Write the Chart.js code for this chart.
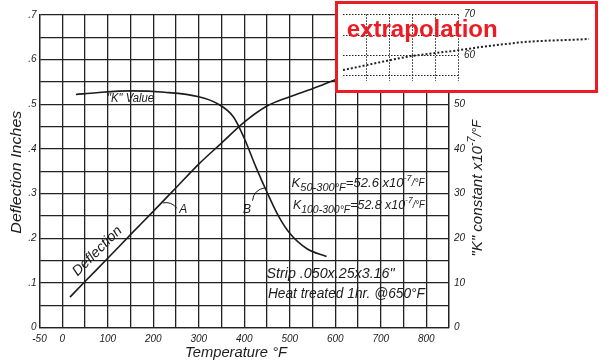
<!DOCTYPE html>
<html>
<head>
<meta charset="utf-8">
<script src="https://cdn.jsdelivr.net/npm/chart.js@4.4.1/dist/chart.umd.min.js"></script>
<style>
  html, body { margin: 0; padding: 0; background: #fff; }
  #wrap { position: relative; width: 602px; height: 363px; overflow: hidden; }
  #main { position: absolute; left: 0; top: 0; }
  #inset { position: absolute; left: 335px; top: 1px; }
</style>
</head>
<body>
<div id="wrap">
  <canvas id="main" width="602" height="363"></canvas>
  <canvas id="inset" width="263" height="92"></canvas>
</div>
<script>
// ---------------- data ----------------
const tempTicks = [-50, 0, 100, 200, 300, 400, 500, 600, 700, 800];
const tempTickLabels = ['-50', '0', '100', '200', '300', '400', '500', '600', '700', '800'];
const deflTickLabels = ['0', '.1', '.2', '.3', '.4', '.5', '.6', '.7'];
const kTickLabels = ['0', '10', '20', '30', '40', '50', '60', '70'];

// Deflection (inches) vs temperature (°F)
const deflTemps  = [17, 50, 100, 150, 200, 250, 300, 350, 400, 450, 500, 550, 600];
const deflValues = [0.068, 0.103, 0.155, 0.208, 0.260, 0.313, 0.366, 0.413, 0.460, 0.496, 0.517, 0.535, 0.555];

// "K" value (x10^-7 /°F) vs temperature (°F)
const kTemps  = [30, 75, 150, 225, 300, 340, 376, 400, 425, 450, 475, 500, 537, 581];
const kValues = [52.2, 52.6, 53.0, 52.7, 51.7, 50.2, 47.2, 42.4, 36.1, 30.3, 25.0, 21.1, 17.7, 15.9];

// extrapolated deflection (inset)
const extrapTemps  = [600, 650, 700, 750, 800, 850, 900, 950, 1000, 1050, 1100, 1135];
const extrapValues = [0.562, 0.574, 0.586, 0.597, 0.604, 0.611, 0.619, 0.626, 0.632, 0.635, 0.637, 0.639];
const insetTickValues = [0.6, 0.7];
const insetTickLabels = ['60', '70'];

// ---------------- helpers ----------------
const INK = '#1c1c1c';
const FONT = (s) => `italic ${s}px "Liberation Sans", Arial, sans-serif`;

function fitText(ctx, text, x, y, font, width, opts = {}) {
  ctx.save();
  ctx.font = font;
  ctx.fillStyle = opts.color || INK;
  ctx.translate(x, y);
  if (opts.rot) ctx.rotate(opts.rot);
  const w = ctx.measureText(text).width;
  if (width) ctx.scale(width / w, 1);
  ctx.textAlign = opts.align || 'left';
  ctx.textBaseline = opts.baseline || 'alphabetic';
  ctx.fillText(text, 0, 0);
  ctx.restore();
}

function richText(ctx, parts, x, y, width, opts = {}) {
  ctx.save();
  ctx.fillStyle = INK;
  ctx.textBaseline = opts.baseline || 'alphabetic';
  ctx.textAlign = 'left';
  let total = 0;
  parts.forEach(p => { ctx.font = p.font; p.w = ctx.measureText(p.t).width; total += p.w; });
  ctx.translate(x, y);
  if (opts.rot) ctx.rotate(opts.rot);
  const sx = width ? width / total : 1;
  ctx.scale(sx, 1);
  let cx = opts.align === 'center' ? -total / 2 : 0;
  parts.forEach(p => { ctx.font = p.font; ctx.fillText(p.t, cx, p.dy || 0); cx += p.w; });
  ctx.restore();
}

// ---------------- main chart ----------------
const mainPlugin = {
  id: 'mainDecor',
  beforeDraw(chart) {
    const ctx = chart.ctx;
    ctx.save();
    ctx.fillStyle = '#fff';
    ctx.fillRect(0, 0, chart.width, chart.height);
    ctx.restore();
  },
  afterDatasetsDraw(chart) {
    const ctx = chart.ctx;
    const xs = chart.scales.x, ys = chart.scales.y;
    const X = v => xs.getPixelForValue(v);
    const Y = v => ys.getPixelForValue(v);

    // curve labels
    fitText(ctx, '"K" Value', X(150), Y(0.506), FONT(12), 47, { align: 'center' });
    fitText(ctx, 'Deflection', X(77), Y(0.171), FONT(14), 64, { align: 'center', baseline: 'middle', rot: -Math.PI / 4 });
    fitText(ctx, 'A', X(266), Y(0.265), FONT(12), 0, { align: 'center', baseline: 'middle' });
    fitText(ctx, 'B', X(406), Y(0.263), FONT(12), 0, { align: 'center', baseline: 'middle' });

    // leaders
    ctx.save();
    ctx.strokeStyle = INK;
    ctx.lineWidth = 1;
    ctx.beginPath();
    ctx.moveTo(X(221), Y(0.279));
    ctx.quadraticCurveTo(X(240), Y(0.283), X(252), Y(0.267));
    ctx.stroke();
    ctx.beginPath();
    ctx.moveTo(X(418), Y(0.284));
    ctx.quadraticCurveTo(X(421), Y(0.309), X(446), Y(0.313));
    ctx.stroke();
    ctx.restore();

    // K constants
    richText(ctx, [
      { t: 'K', font: FONT(13) },
      { t: '50-300°F', font: FONT(11), dy: 4 },
      { t: '=52.6 x10', font: FONT(13) },
      { t: '-7', font: FONT(9), dy: -6 },
      { t: '/°F', font: FONT(10), dy: -1 }
    ], X(504), Y(0.3147), 133);
    richText(ctx, [
      { t: 'K', font: FONT(13) },
      { t: '100-300°F', font: FONT(11), dy: 4 },
      { t: '=52.8 x10', font: FONT(13) },
      { t: '-7', font: FONT(9), dy: -6 },
      { t: '/°F', font: FONT(10), dy: -1 }
    ], X(507), Y(0.2654), 132);

    fitText(ctx, 'Strip .050x.25x3.16"', X(449), Y(0.111), FONT(14), 128);
    fitText(ctx, 'Heat treated 1hr. @650°F', X(452), Y(0.066), FONT(14), 157);

    // axis titles
    fitText(ctx, 'Deflection Inches', xs.left - 23, Y(0.348), FONT(15), 123, { align: 'center', baseline: 'middle', rot: -Math.PI / 2 });
    fitText(ctx, 'Temperature °F', X(382), ys.bottom + 25, FONT(15), 102, { align: 'center', baseline: 'middle' });
    richText(ctx, [
      { t: '"K" constant x10', font: FONT(14) },
      { t: '-7', font: FONT(10), dy: -6 },
      { t: '/°F', font: FONT(12) }
    ], xs.right + 29, Y(0.312), 137, { align: 'center', baseline: 'middle', rot: -Math.PI / 2 });
  }
};

new Chart(document.getElementById('main'), {
  type: 'line',
  data: {
    datasets: [
      {
        label: 'Deflection',
        data: deflTemps.map((t, i) => ({ x: t, y: deflValues[i] })),
        yAxisID: 'y',
        borderColor: INK, borderWidth: 1.6,
        pointRadius: 0, tension: 0.4, cubicInterpolationMode: 'monotone', fill: false
      },
      {
        label: '"K" Value',
        data: kTemps.map((t, i) => ({ x: t, y: kValues[i] })),
        yAxisID: 'yK',
        borderColor: INK, borderWidth: 1.6,
        pointRadius: 0, tension: 0.4, cubicInterpolationMode: 'monotone', fill: false
      }
    ]
  },
  options: {
    responsive: false,
    animation: false,
    devicePixelRatio: 1,
    layout: { padding: { left: 0, top: 15, right: 123, bottom: 0 } },
    plugins: { legend: { display: false }, tooltip: { enabled: false } },
    scales: {
      x: {
        type: 'linear', min: -50, max: 850,
        ticks: {
          stepSize: 50, autoSkip: false, maxRotation: 0, padding: 6,
          color: INK, font: { family: '"Liberation Sans", Arial, sans-serif', style: 'italic', size: 10 },
          callback: (v) => { const i = tempTicks.indexOf(v); return i >= 0 ? tempTickLabels[i] : ''; }
        },
        grid: { color: '#222', lineWidth: 1.3, drawTicks: false },
        border: { color: '#222', width: 1.3 },
        afterFit: (s) => { s.height = 35.5; }
      },
      y: {
        type: 'linear', position: 'left', min: 0, max: 0.7,
        ticks: {
          stepSize: 0.05, autoSkip: false, padding: 3,
          color: INK, font: { family: '"Liberation Sans", Arial, sans-serif', style: 'italic', size: 10 },
          callback: (v) => { const k = Math.round(v * 100); return k % 10 === 0 ? deflTickLabels[k / 10] : ''; }
        },
        grid: { color: '#222', lineWidth: 1.3, drawTicks: false },
        border: { color: '#222', width: 1.3 },
        afterFit: (s) => { s.width = 39.5; }
      },
      yK: {
        type: 'linear', position: 'right', min: 0, max: 70,
        ticks: {
          stepSize: 10, autoSkip: false, padding: 5,
          color: INK, font: { family: '"Liberation Sans", Arial, sans-serif', style: 'italic', size: 10 },
          callback: (v) => kTickLabels[Math.round(v / 10)] || ''
        },
        grid: { drawOnChartArea: false, drawTicks: false },
        border: { color: '#222', width: 1.3 },
        afterFit: (s) => { s.width = 30; }
      }
    }
  },
  plugins: [mainPlugin]
});

// ---------------- inset (extrapolation) ----------------
const insetPlugin = {
  id: 'insetDecor',
  beforeDraw(chart) {
    const ctx = chart.ctx;
    ctx.save();
    ctx.fillStyle = '#fff';
    ctx.fillRect(0, 0, chart.width, chart.height);
    ctx.restore();
  },
  beforeDatasetsDraw(chart) {
    const ctx = chart.ctx;
    const xs = chart.scales.x, ys = chart.scales.y;
    const a = chart.chartArea;
    ctx.save();
    ctx.strokeStyle = '#222';
    ctx.lineWidth = 1;
    ctx.setLineDash([1.5, 1.5]);
    for (let v = 650; v <= 850; v += 50) {
      const px = Math.round(xs.getPixelForValue(v)) + 0.5;
      ctx.beginPath(); ctx.moveTo(px, a.top); ctx.lineTo(px, a.bottom); ctx.stroke();
    }
    for (let k = 55; k <= 70; k += 5) {
      const py = Math.round(ys.getPixelForValue(k / 100)) + 0.5;
      ctx.beginPath(); ctx.moveTo(a.left, py); ctx.lineTo(a.right, py); ctx.stroke();
    }
    ctx.restore();
  },
  afterDraw(chart) {
    const ctx = chart.ctx;
    ctx.save();
    ctx.font = 'bold 24px "Liberation Sans", Arial, sans-serif';
    ctx.fillStyle = '#ec1c24';
    ctx.textBaseline = 'alphabetic';
    const w = ctx.measureText('extrapolation').width;
    ctx.translate(11.7, 35.7);
    ctx.scale(151 / w, 1);
    ctx.fillText('extrapolation', 0, 0);
    ctx.restore();
    ctx.save();
    ctx.strokeStyle = '#ec1c24';
    ctx.lineWidth = 3;
    ctx.strokeRect(1.5, 1.5, chart.width - 3, chart.height - 3);
    ctx.restore();
  }
};

new Chart(document.getElementById('inset'), {
  type: 'line',
  data: {
    datasets: [{
      label: 'extrapolation',
      data: extrapTemps.map((t, i) => ({ x: t, y: extrapValues[i] })),
      borderColor: '#222', borderWidth: 2, borderDash: [2, 2],
      pointRadius: 0, tension: 0.4, cubicInterpolationMode: 'monotone',
      fill: false, clip: false
    }]
  },
  options: {
    responsive: false,
    animation: false,
    devicePixelRatio: 1,
    layout: { padding: { left: 8, top: 13.3, right: 110, bottom: 5 } },
    plugins: { legend: { display: false }, tooltip: { enabled: false } },
    scales: {
      x: {
        type: 'linear', bounds: 'data',
        afterDataLimits: (s) => { s.min = 600; s.max = 850; },
        ticks: { display: false, stepSize: 50 },
        grid: { display: false, drawTicks: false },
        border: { display: false },
        afterFit: (s) => { s.height = 0; }
      },
      y: {
        type: 'linear', position: 'right', bounds: 'data', min: 0.535, max: 0.70,
        afterBuildTicks: (s) => { s.ticks = insetTickValues.map(v => ({ value: v })); },
        ticks: {
          padding: 6, color: INK,
          font: { family: '"Liberation Sans", Arial, sans-serif', style: 'italic', size: 10 },
          callback: (v) => { const i = insetTickValues.findIndex(t => Math.abs(t - v) < 1e-6); return i >= 0 ? insetTickLabels[i] : ''; }
        },
        grid: { display: false, drawTicks: false },
        border: { display: false },
        afterFit: (s) => { s.width = 30; }
      }
    }
  },
  plugins: [insetPlugin]
});
</script>
</body>
</html>
